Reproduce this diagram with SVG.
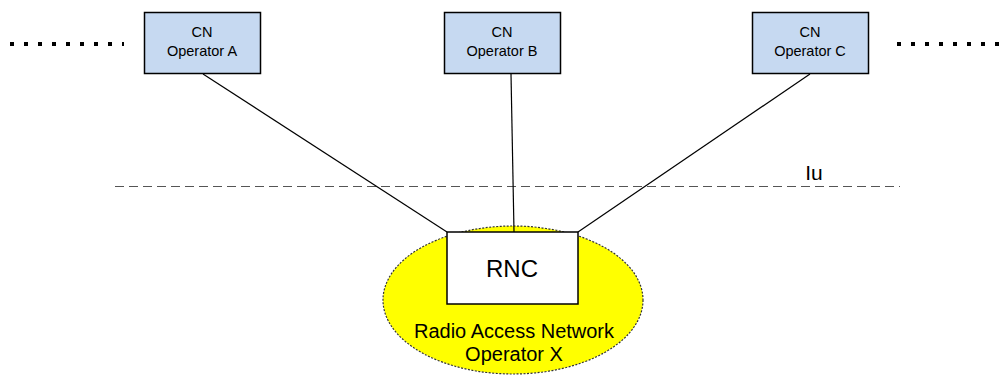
<svg xmlns="http://www.w3.org/2000/svg" width="1003" height="376" viewBox="0 0 1003 376">
<style>
.cn{fill:#c6d9f1;stroke:#000;stroke-width:1.5}
.t{font-family:"Liberation Sans",Arial,sans-serif;fill:#000;text-anchor:middle}
.s{font-size:14.5px}
.dots{stroke:#000;stroke-width:4;stroke-dasharray:4 10}
.c{stroke:#000;stroke-width:1.2;fill:none}
</style>
<rect width="1003" height="376" fill="#fff"/>
<line class="dots" x1="10" y1="44" x2="124" y2="44"/>
<line class="dots" x1="897" y1="44" x2="1003" y2="44"/>
<line x1="115" y1="186.5" x2="900" y2="186.5" stroke="#555" stroke-width="1" stroke-dasharray="9 5"/>
<text class="t" x="814" y="180" font-size="21">Iu</text>
<g id="ran">
<ellipse cx="513" cy="300" rx="130" ry="74" fill="#ffff00" stroke="#333" stroke-width="1.2" stroke-dasharray="2 1.5"/>
<text class="t" x="514" y="338" font-size="20">Radio Access Network</text>
<text class="t" x="514" y="361" font-size="20">Operator X</text>
</g>
<g id="connectors">
<line class="c" x1="203" y1="74" x2="447" y2="232"/>
<line class="c" x1="511" y1="74" x2="514" y2="232"/>
<line class="c" x1="810" y1="74" x2="578" y2="232"/>
</g>
<g id="rnc">
<rect x="447" y="232" width="131" height="72" fill="#fff" stroke="#000" stroke-width="1.5"/>
<text class="t" x="512" y="277" font-size="24">RNC</text>
</g>
<g id="cnA">
<rect class="cn" x="144.5" y="12.5" width="116" height="61"/>
<text class="t s" x="202" y="37">CN</text>
<text class="t s" x="202" y="56">Operator A</text>
</g>
<g id="cnB">
<rect class="cn" x="444.5" y="12.5" width="116" height="61"/>
<text class="t s" x="502" y="37">CN</text>
<text class="t s" x="502" y="56">Operator B</text>
</g>
<g id="cnC">
<rect class="cn" x="752.5" y="12.5" width="116" height="61"/>
<text class="t s" x="810" y="37">CN</text>
<text class="t s" x="810" y="56">Operator C</text>
</g>
</svg>
